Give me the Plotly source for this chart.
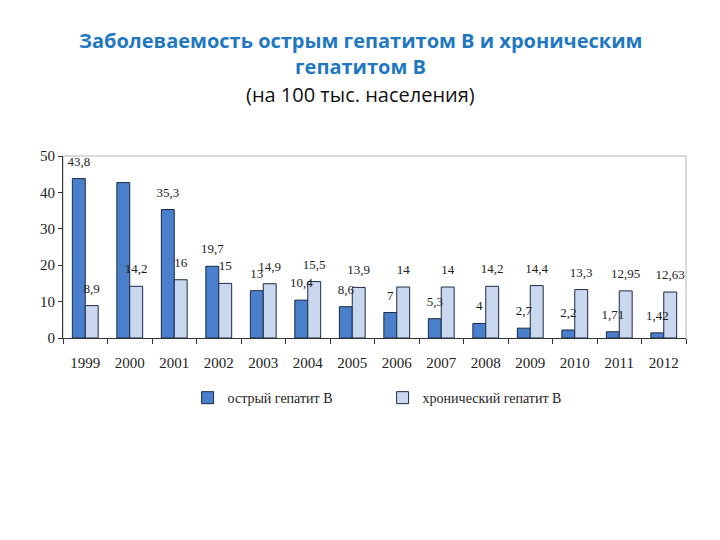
import plotly.graph_objects as go

years = ["1999", "2000", "2001", "2002", "2003", "2004", "2005",
         "2006", "2007", "2008", "2009", "2010", "2011", "2012"]
acute = [43.8, 42.7, 35.3, 19.7, 13, 10.4, 8.6, 7, 5.3, 4, 2.7, 2.2, 1.71, 1.42]
acute_labels = ["43,8", "", "35,3", "19,7", "13", "10,4", "8,6",
                "7", "5,3", "4", "2,7", "2,2", "1,71", "1,42"]
chronic = [8.9, 14.2, 16, 15, 14.9, 15.5, 13.9, 14, 14, 14.2, 14.4, 13.3, 12.95, 12.63]
chronic_labels = ["8,9", "14,2", "16", "15", "14,9", "15,5", "13,9",
                  "14", "14", "14,2", "14,4", "13,3", "12,95", "12,63"]

serif = "Liberation Serif"
lbl = dict(family=serif, size=13, color="#222")

fig = go.Figure()
fig.add_trace(go.Bar(x=years, y=acute, name="острый гепатит В",
                     marker=dict(color="#4A7FCB", line=dict(color="#1c2a44", width=1))))
fig.add_trace(go.Bar(x=years, y=chronic, name="хронический гепатит В",
                     marker=dict(color="#C9D8EF", line=dict(color="#1c2a44", width=1))))

# value labels drawn above the bars (on top of neighbouring bars)
for vals, labels in [(acute, acute_labels), (chronic, chronic_labels)]:
    fig.add_trace(go.Scatter(x=years, y=vals, text=labels, mode="markers+text",
                             textposition="top center", textfont=lbl,
                             marker=dict(size=14, color="rgba(0,0,0,0)"),
                             showlegend=False, hoverinfo="skip", cliponaxis=False))

fig.update_layout(
    width=720, height=540,
    paper_bgcolor="white", plot_bgcolor="white",
    margin=dict(l=55, r=42, t=148, b=210),
    barmode="group", bargap=0.42, bargroupgap=0,
    scattermode="group", scattergap=0.42,
    font=dict(family=serif, size=13, color="#222"),
    legend=dict(orientation="h", x=0.2, xanchor="left", y=-0.33, yanchor="middle",
                entrywidth=150, itemwidth=30,
                font=dict(family=serif, size=14, color="#222")),
    shapes=[dict(type="rect", xref="paper", yref="paper", x0=0, x1=1, y0=0, y1=1,
                 line=dict(color="#b5b5b5", width=1), layer="below")],
    annotations=[
        dict(text="<b>Заболеваемость острым гепатитом В и хроническим</b>",
             xref="paper", yref="paper", x=0.5, y=1, xanchor="center", yanchor="middle",
             yshift=116, xshift=-14, showarrow=False,
             font=dict(family="Open Sans", size=20, color="#1F78C1")),
        dict(text="<b>гепатитом В</b>",
             xref="paper", yref="paper", x=0.5, y=1, xanchor="center", yanchor="middle",
             yshift=90, xshift=-14, showarrow=False,
             font=dict(family="Open Sans", size=20, color="#1F78C1")),
        dict(text="(на 100 тыс. населения)",
             xref="paper", yref="paper", x=0.5, y=1, xanchor="center", yanchor="middle",
             yshift=62, xshift=-14, showarrow=False,
             font=dict(family="Open Sans", size=20, color="#111")),
    ],
)
fig.update_yaxes(range=[0, 50], dtick=10, showgrid=False, showline=True,
                 linecolor="#333", linewidth=1, ticks="outside", ticklen=4,
                 tickcolor="#333", tickfont=dict(family=serif, size=15))
fig.update_xaxes(showgrid=False, showline=True, linecolor="#333", linewidth=1,
                 ticks="outside", tickson="boundaries", ticklen=5, tickcolor="#333",
                 ticklabelstandoff=11, tickfont=dict(family=serif, size=15))

fig.write_html("out.html")
